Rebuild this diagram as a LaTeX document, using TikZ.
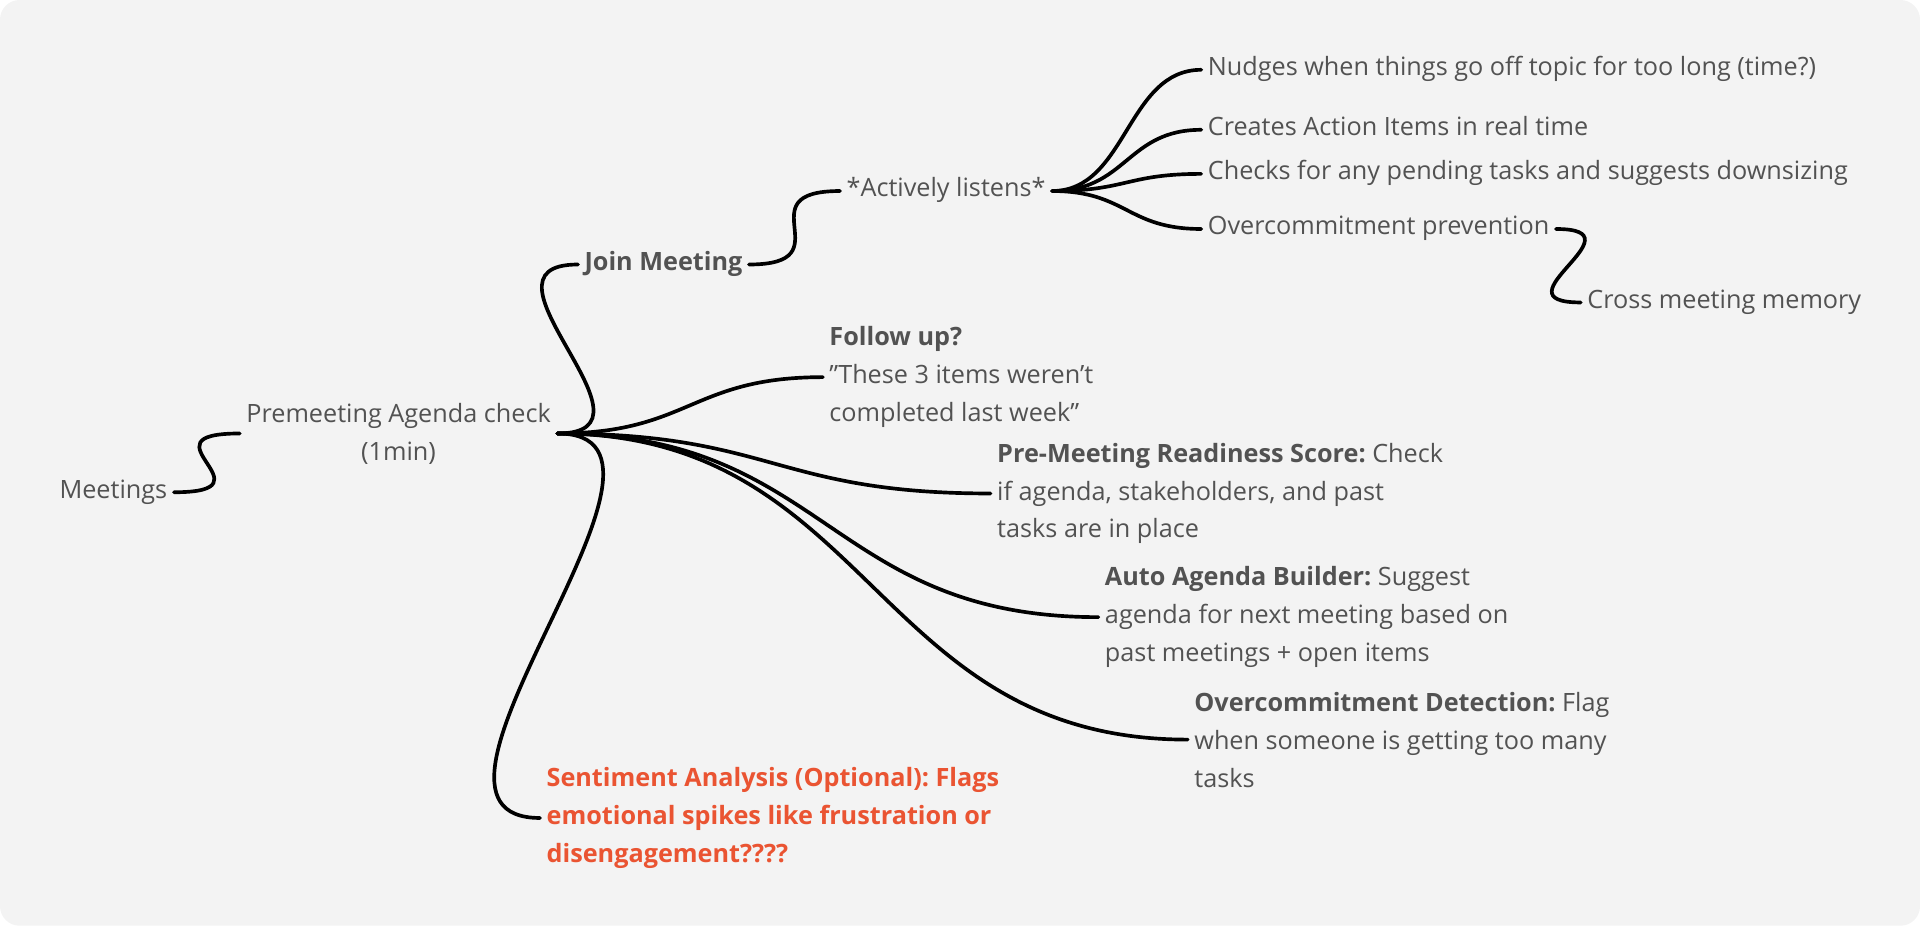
\documentclass[tikz,border=0pt]{standalone}
\usepackage{fontspec}
\setmainfont{Open Sans}
\frenchspacing
\usetikzlibrary{positioning}
\definecolor{canvas}{HTML}{F3F3F3}
\definecolor{ink}{HTML}{525252}
\definecolor{alert}{HTML}{EA5432}

\begin{document}
\begin{tikzpicture}[x=0.5pt, y=-0.5pt,
    idea/.style={inner xsep=2.5pt, inner ysep=0pt, text=ink, font=\fontsize{10.3}{15.5}\selectfont},
    lone/.style={idea, text height=.72em, text depth=.24em},
    note/.style={idea, align=left, anchor=west},
    link/.style={line width=1.5pt, line cap=round}]
    \fill[canvas, rounded corners=8pt] (0,0) rectangle (1568,756);
    \useasboundingbox (0,0) rectangle (1568,756);

    \node[lone, anchor=east] (meet) at (142,402) {Meetings};
    \node[idea, align=center] (pre) at (325.5,354) {Premeeting Agenda check\\(1min)};
    \node[lone, anchor=west, font=\fontsize{10.3}{15.5}\selectfont\bfseries] (join) at (472,216) {Join Meeting};
    \node[lone, anchor=west] (listen) at (686,156) {*Actively listens*};
    \node[lone, anchor=west] (nudge) at (981,57) {Nudges when things go off topic for too long (time?)};
    \node[lone, anchor=west] (action) at (981,106) {Creates Action Items in real time};
    \node[lone, anchor=west] (pending) at (981,142) {Checks for any pending tasks and suggests downsizing};
    \node[lone, anchor=west] (overprev) at (981,187) {Overcommitment prevention};
    \node[lone, anchor=west] (memory) at (1291,247) {Cross meeting memory};
    \node[note] (follow) at (672,308) {\textbf{Follow up?}\\”These 3 items weren’t\\completed last week”};
    \node[note] (ready) at (809,403) {\textbf{Pre-Meeting Readiness Score:} Check\\if agenda, stakeholders, and past\\tasks are in place};
    \node[note] (auto) at (897,504) {\textbf{Auto Agenda Builder:} Suggest\\agenda for next meeting based on\\past meetings + open items};
    \node[note] (detect) at (970,604) {\textbf{Overcommitment Detection:} Flag\\when someone is getting too many\\tasks};
    \node[note, text=alert, font=\fontsize{10.3}{15.5}\selectfont\bfseries] (mood) at (441,668) {Sentiment Analysis (Optional): Flags\\emotional spikes like frustration or\\disengagement????};

    \draw[link] (meet.east) .. controls +(85,0) and +(-85,0) .. (pre.west);
    \draw[link] (pre.east) .. controls +(95,0) and +(-95,0) .. (join.west);
    \draw[link] (join.east) .. controls +(80,0) and +(-80,0) .. (listen.west);
    \foreach \leaf in {nudge,action,pending,overprev}
        \draw[link] (listen.east) .. controls +(61,0) and +(-61,0) .. (\leaf.west);
    \draw[link] (overprev.east) .. controls +(73,0) and +(-73,0) .. (memory.west);
    \draw[link] (pre.east) .. controls +(108,0) and +(-108,0) .. (follow.west);
    \draw[link] (pre.east) .. controls +(176,0) and +(-176,0) .. (ready.west);
    \draw[link] (pre.east) .. controls +(220,0) and +(-220,0) .. (auto.west);
    \draw[link] (pre.east) .. controls +(257,0) and +(-257,0) .. (detect.west);
    \draw[link] (pre.east) .. controls +(135,0) and +(-135,0) .. (mood.west);
\end{tikzpicture}
\end{document}
